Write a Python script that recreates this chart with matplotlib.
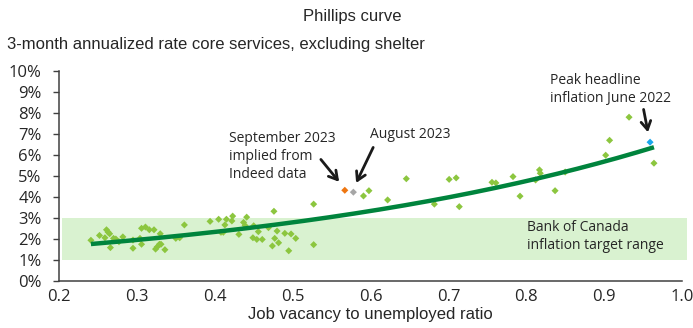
import numpy as np
import matplotlib
matplotlib.use("Agg")
import matplotlib.pyplot as plt
from matplotlib.patches import Rectangle

# ---- data ----
ratio = [0.241, 0.252, 0.259, 0.261, 0.263, 0.265, 0.270, 0.266, 0.273, 0.277,
         0.282, 0.295, 0.295, 0.306, 0.311, 0.316, 0.322, 0.304, 0.306, 0.324,
         0.326, 0.329, 0.331, 0.336, 0.330, 0.350, 0.355, 0.361, 0.394, 0.405,
         0.415, 0.423, 0.422, 0.413, 0.408, 0.411, 0.431, 0.437, 0.441, 0.439,
         0.450, 0.456, 0.449, 0.454, 0.461, 0.469, 0.476, 0.480, 0.477, 0.482,
         0.474, 0.490, 0.498, 0.504, 0.495, 0.527, 0.527, 0.591, 0.598, 0.622,
         0.646, 0.682, 0.701, 0.710, 0.714, 0.756, 0.761, 0.783, 0.792, 0.812,
         0.817, 0.818, 0.837, 0.850, 0.902, 0.907, 0.932, 0.964]
inflation = [1.94, 2.17, 2.06, 2.44, 2.33, 2.25, 2.03, 1.59, 2.00, 1.87,
             2.10, 1.56, 1.95, 2.51, 2.57, 2.44, 2.44, 2.03, 1.75, 1.52,
             1.62, 1.75, 1.75, 1.49, 2.25, 2.03, 2.06, 2.67, 2.84, 2.94,
             2.94, 3.09, 2.86, 2.67, 2.32, 2.32, 2.22, 2.79, 3.04, 2.64,
             2.63, 2.35, 2.06, 1.98, 1.98, 2.54, 3.32, 2.38, 2.03, 1.82,
             1.67, 2.27, 2.24, 2.03, 1.44, 3.66, 1.73, 4.05, 4.30, 3.86,
             4.87, 3.66, 4.84, 4.91, 3.54, 4.70, 4.67, 4.97, 4.04, 4.81,
             5.29, 5.13, 4.30, 5.19, 5.99, 6.70, 7.80, 5.61]

peak_x, peak_y = 0.959, 6.61      # Peak headline inflation June 2022
aug_x, aug_y = 0.578, 4.23        # August 2023
sep_x, sep_y = 0.567, 4.32        # September 2023 implied from Indeed data

target_low, target_high = 1.0, 3.0
y_ticks = list(range(0, 11))
y_tick_labels = [f"{v}%" for v in y_ticks]
x_ticks = [0.2, 0.3, 0.4, 0.5, 0.6, 0.7, 0.8, 0.9, 1.0]
x_tick_labels = ["0.2", "0.3", "0.4", "0.5", "0.6", "0.7", "0.8", "0.9", "1.0"]

# ---- figure ----
W, H = 693, 328
fig = plt.figure(figsize=(W / 100, H / 100), dpi=100)
ax = fig.add_axes([59 / W, 1 - 281 / H, (682 - 59) / W, (281 - 71) / H])
ax.set_xlim(0.2, 1.0)
ax.set_ylim(0, 10)

tick_font = ["Open Sans", "DejaVu Sans"]
cond_font = ["Liberation Sans Narrow", "Liberation Sans", "DejaVu Sans"]
txt_col = "#262626"

# target band
ax.add_patch(Rectangle((0.204, target_low), 1.006 - 0.204, target_high - target_low,
                       facecolor="#d9f2d0", edgecolor="none", zorder=0, clip_on=False))

# scatter
all_x = np.array(ratio + [peak_x])
all_y = np.array(inflation + [peak_y])
ms = 13
ax.scatter(ratio, inflation, marker="D", s=ms, color="#8cc63f", edgecolor="none", zorder=2)
ax.scatter([aug_x], [aug_y], marker="D", s=ms, color="#a6a6a6", edgecolor="none", zorder=3)
ax.scatter([sep_x], [sep_y], marker="D", s=ms, color="#ee7611", edgecolor="none", zorder=3)
ax.scatter([peak_x], [peak_y], marker="D", s=ms, color="#1aa7ec", edgecolor="none", zorder=3)

# exponential trend line fitted to the series
b, ln_a = np.polyfit(all_x, np.log(all_y), 1)
xs = np.linspace(all_x.min(), all_x.max(), 200)
ax.plot(xs, np.exp(ln_a) * np.exp(b * xs), color="#00843d", lw=3.2,
        solid_capstyle="butt", zorder=4)

# axes styling
for s in ["top", "right"]:
    ax.spines[s].set_visible(False)
for s in ["left", "bottom"]:
    ax.spines[s].set_color("#404040")
    ax.spines[s].set_linewidth(1.1)
ax.set_yticks(y_ticks)
ax.set_yticklabels(y_tick_labels, fontfamily=tick_font, fontsize=12, color=txt_col)
ax.set_xticks(x_ticks)
ax.set_xticklabels(x_tick_labels, fontfamily=tick_font, fontsize=12, color=txt_col)
ax.tick_params(axis="y", length=4.5, width=1.0, color="#404040", pad=8)
ax.tick_params(axis="x", length=0, pad=6)
ax.set_xlabel("Job vacancy to unemployed ratio", fontfamily=cond_font, fontsize=12,
              color=txt_col, labelpad=1)

# titles
fig.text(352 / W, 1 - 17 / H, "Phillips curve", ha="center", va="center",
         fontfamily=cond_font, fontsize=12, color=txt_col)
fig.text(7 / W, 1 - 44 / H, "3-month annualized rate core services, excluding shelter",
         ha="left", va="center", fontfamily=cond_font, fontsize=12, color=txt_col)

# annotations
ann_kw = dict(fontfamily=tick_font, fontsize=10, color=txt_col, linespacing=1.3,
              ha="left", va="center")
arrow = dict(arrowstyle="->,head_length=0.6,head_width=0.35", color="#1a1a1a", lw=2)
ax.text(0.418, 5.92, "September 2023\nimplied from\nIndeed data", **ann_kw)
ax.annotate("", xy=(0.562, 4.62), xytext=(0.534, 5.89), arrowprops=arrow)
ax.text(0.600, 7.0, "August 2023", **ann_kw)
ax.annotate("", xy=(0.580, 4.55), xytext=(0.605, 6.48), arrowprops=arrow)
ax.text(0.830, 9.12, "Peak headline\ninflation June 2022", **ann_kw)
ax.annotate("", xy=(0.957, 6.95), xytext=(0.950, 8.30), arrowprops=arrow)
ax.text(0.801, 2.13, "Bank of Canada\ninflation target range", **ann_kw)

fig.savefig("out.png", dpi=100)
